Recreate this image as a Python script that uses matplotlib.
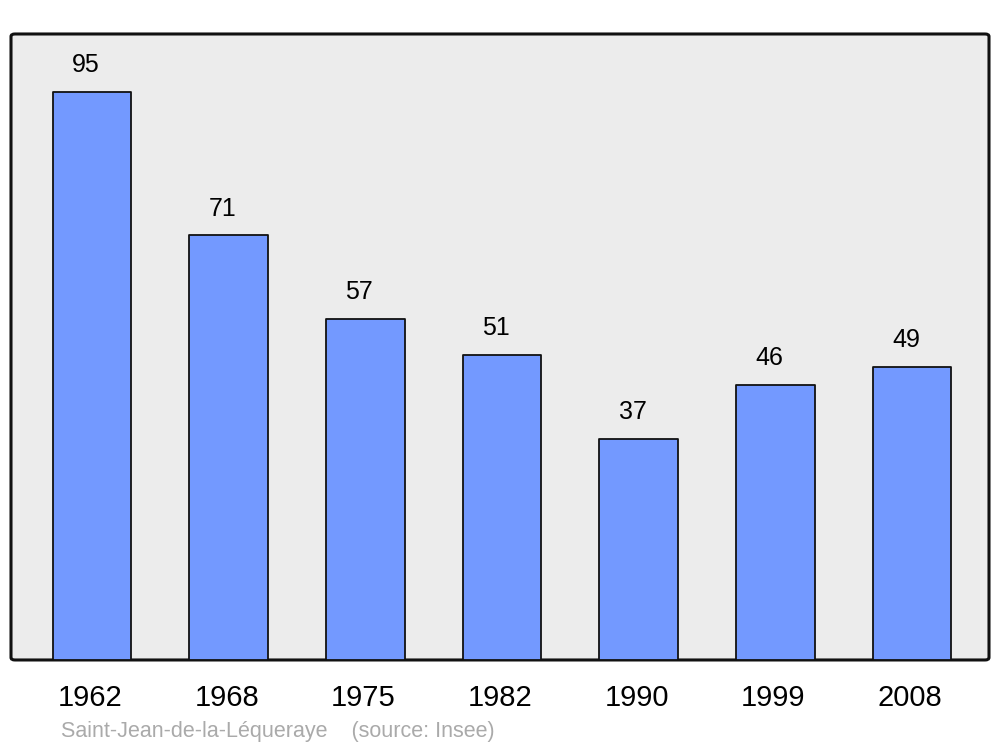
import matplotlib.pyplot as plt
from matplotlib.patches import FancyBboxPatch

years = ["1962", "1968", "1975", "1982", "1990", "1999", "2008"]
population = [95, 71, 57, 51, 37, 46, 49]
footer = "Saint-Jean-de-la-Léqueraye    (source: Insee)"

plt.rcParams['font.family'] = ['Liberation Sans', 'DejaVu Sans']

fig = plt.figure(figsize=(10, 7.47), dpi=100)
ax = fig.add_axes([0.011, 0.1165, 0.978, 0.838])

# Rounded grey frame
ax.patch.set_visible(False)
for s in ax.spines.values():
    s.set_visible(False)
frame = FancyBboxPatch((0, 0), 1, 1, boxstyle="round,pad=0,rounding_size=0.004",
                       transform=ax.transAxes, facecolor="#ececec", edgecolor="#111111",
                       linewidth=2.2, zorder=0, clip_on=False)
ax.add_patch(frame)

x = list(range(len(years)))
bars = ax.bar(x, population, width=0.575, color="#7399ff", edgecolor="#111111",
              linewidth=1.3, zorder=2)
for b in bars:
    b.set_joinstyle("round")

for xi, v in zip(x, population):
    ax.text(xi - 0.045, v + 4.5, str(v), ha="center", va="center", fontsize=18, zorder=3)

ax.set_xlim(-0.593, 6.563)
ax.set_ylim(0, 104.7)
ax.set_yticks([])
ax.set_xticks([xi - 0.015 for xi in x])
ax.set_xticklabels(years, fontsize=21)
ax.tick_params(axis="x", length=0, pad=17)

fig.text(0.061, 0.0135, footer, fontsize=15.5, color="#aaaaaa", ha="left", va="baseline")

fig.savefig("out.png", dpi=100)
